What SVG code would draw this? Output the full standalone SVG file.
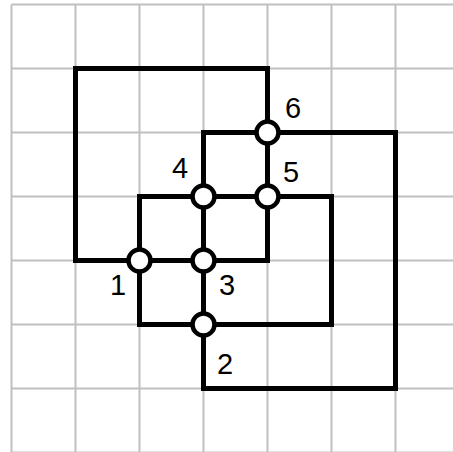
<svg xmlns="http://www.w3.org/2000/svg" width="453" height="452" viewBox="0 0 453 452">
<style>
.grid{stroke:#c0c0c0;stroke-width:2;fill:none}
.edge{stroke:#000;stroke-width:5;fill:none;stroke-linejoin:miter}
.node circle{fill:#fff;stroke:#000;stroke-width:4.5}
.lbl{font-family:"Liberation Sans",Arial,sans-serif;font-size:29px;fill:#000;text-anchor:middle}
</style>
<rect width="453" height="452" fill="#fff"/>
<g id="grid" class="grid">
<path d="M11.5 4.5V460M75.5 4.5V460M139.5 4.5V460M203.5 4.5V460M267.5 4.5V460M331.5 4.5V460M395.5 4.5V460"/>
<path d="M11.5 4.5H460M11.5 68.5H460M11.5 132.5H460M11.5 196.5H460M11.5 260.5H460M11.5 324.5H460M11.5 388.5H460M11.5 452.5H460"/>
</g>
<g id="connectors" class="edge">
<rect x="75.5" y="68.5" width="192" height="192"/>
<rect x="139.5" y="196.5" width="192" height="128"/>
<rect x="203.5" y="132.5" width="192" height="256"/>
</g>
<g id="n1" class="node"><circle cx="139.5" cy="260.5" r="11"/><text class="lbl" x="118" y="295">1</text></g>
<g id="n2" class="node"><circle cx="203.5" cy="324.5" r="11"/><text class="lbl" x="225" y="374">2</text></g>
<g id="n3" class="node"><circle cx="203.5" cy="260.5" r="11"/><text class="lbl" x="227" y="295">3</text></g>
<g id="n4" class="node"><circle cx="203.5" cy="196.5" r="11"/><text class="lbl" x="180" y="178">4</text></g>
<g id="n5" class="node"><circle cx="267.5" cy="196.5" r="11"/><text class="lbl" x="291" y="182">5</text></g>
<g id="n6" class="node"><circle cx="267.5" cy="132.5" r="11"/><text class="lbl" x="293" y="118">6</text></g>
</svg>
